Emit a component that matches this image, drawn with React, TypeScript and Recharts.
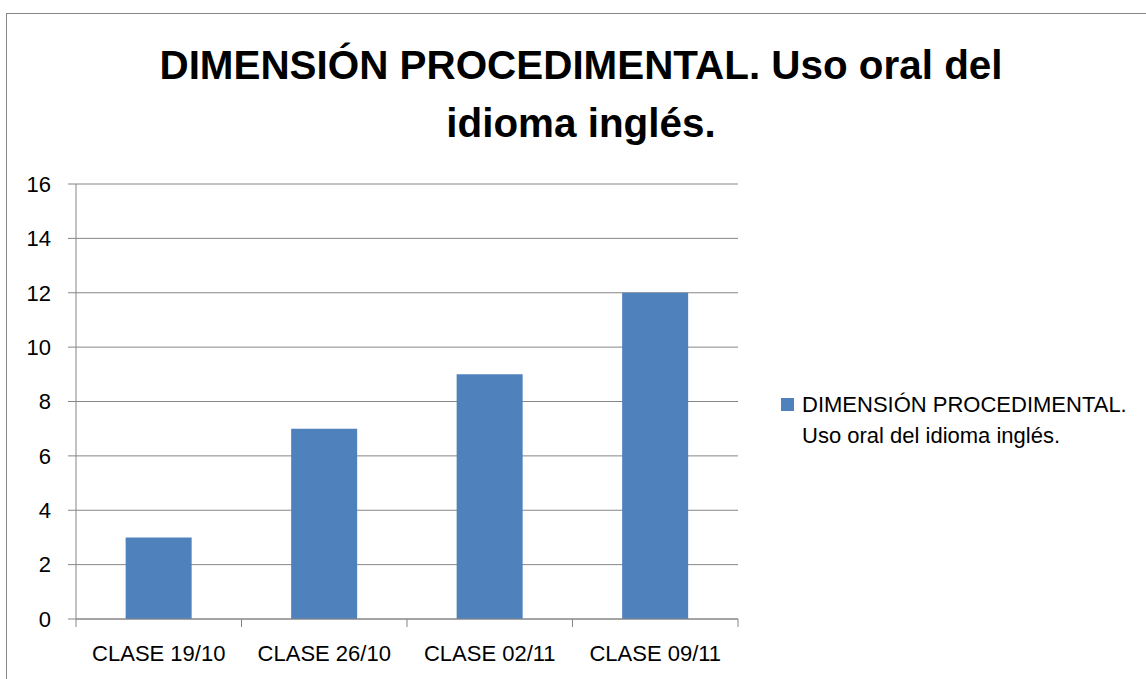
import React from "react";
import { BarChart, Bar, XAxis, YAxis, CartesianGrid, Legend } from "recharts";

const categories = ["CLASE 19/10", "CLASE 26/10", "CLASE 02/11", "CLASE 09/11"];
const values = [3, 7, 9, 12];
const yTicks = [0, 2, 4, 6, 8, 10, 12, 14, 16];
const seriesName = "DIMENSIÓN PROCEDIMENTAL. Uso oral del idioma inglés.";
const titleLines = ["DIMENSIÓN PROCEDIMENTAL. Uso oral del", "idioma inglés."];

const data = categories.map((c, i) => ({ name: c, value: values[i] }));

const FONT = "'Liberation Sans', Arial, sans-serif";
const GRID = "#868686";
const BAR = "#4F81BD";
const X_TICK_SIZE = 8;
const X_TICK_MARGIN = 18;

function XTick(props: any) {
  const { x, y, payload, index, visibleTicksCount } = props;
  const half = payload?.offset ?? 165.5 / 2;
  const axisY = y - X_TICK_SIZE - X_TICK_MARGIN;
  const last = index === (visibleTicksCount ?? categories.length) - 1;
  return (
    <g>
      <line x1={x - half} x2={x - half} y1={axisY} y2={axisY + X_TICK_SIZE} stroke={GRID} />
      {last && <line x1={x + half} x2={x + half} y1={axisY} y2={axisY + X_TICK_SIZE} stroke={GRID} />}
      <text x={x} y={y} dy="0.71em" textAnchor="middle" fontSize={22} fontFamily={FONT} fill="#000">
        {payload.value}
      </text>
    </g>
  );
}

function LegendBox(props: any) {
  const item = props.payload?.[0];
  return (
    <div style={{ position: "relative", fontFamily: FONT, fontSize: 22, lineHeight: "31px", color: "#000" }}>
      <div style={{ position: "absolute", left: 0, top: 9, width: 13, height: 13, background: item?.color ?? BAR }} />
      <div style={{ marginLeft: 21, width: 335 }}>{item?.value}</div>
    </div>
  );
}

export default function App() {
  return (
    <div style={{ position: "absolute", left: 0, top: 0, width: 1146, height: 679, overflow: "hidden", background: "#fff" }}>
      <div style={{ position: "absolute", left: 6, top: 13, width: 1300, height: 900, border: "1px solid " + GRID }} />
      <div
        style={{
          position: "absolute",
          left: 0,
          top: 36,
          width: 1162,
          textAlign: "center",
          fontFamily: FONT,
          fontWeight: "bold",
          fontSize: 40.4,
          lineHeight: "58px",
          color: "#000",
        }}
      >
        {titleLines.map((t) => (
          <div key={t}>{t}</div>
        ))}
      </div>
      <div style={{ position: "absolute", left: 0, top: 0 }}>
        <BarChart
          width={1146}
          height={679}
          data={data}
          margin={{ top: 184, right: 408, bottom: 0, left: 0 }}
          barCategoryGap="30%"
        >
          <CartesianGrid vertical={false} stroke={GRID} strokeWidth={1} />
          <XAxis
            dataKey="name"
            height={60}
            axisLine={{ stroke: GRID }}
            tickLine={false}
            tickSize={X_TICK_SIZE}
            tickMargin={X_TICK_MARGIN}
            tick={<XTick />}
            interval={0}
          />
          <YAxis
            width={76}
            domain={[0, 16]}
            ticks={yTicks}
            interval={0}
            axisLine={{ stroke: GRID }}
            tickLine={{ stroke: GRID }}
            tickSize={8}
            tickMargin={17}
            tick={{ fontSize: 22, fontFamily: FONT, fill: "#000" }}
          />
          <Legend
            layout="vertical"
            align="center"
            verticalAlign="middle"
            content={<LegendBox />}
            wrapperStyle={{ position: "absolute", left: 781, top: 389, width: 360, margin: 0 }}
          />
          <Bar dataKey="value" name={seriesName} fill={BAR} isAnimationActive={false} />
        </BarChart>
      </div>
    </div>
  );
}
